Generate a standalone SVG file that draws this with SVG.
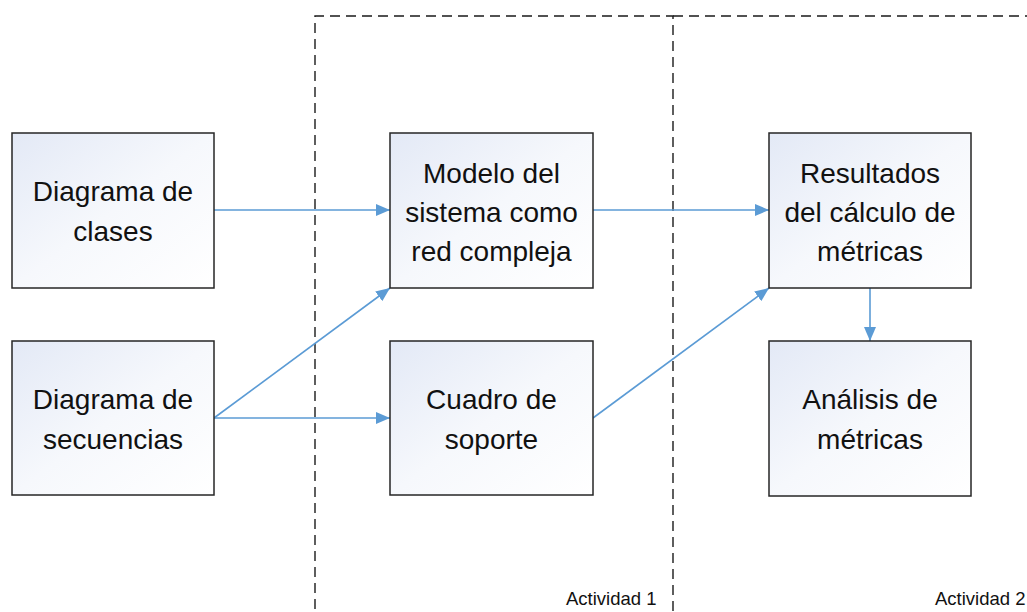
<svg xmlns="http://www.w3.org/2000/svg" width="1027" height="612" viewBox="0 0 1027 612">
<style>
.box{stroke:#262626;stroke-width:1.5;fill:url(#g)}
.t{font-family:"Liberation Sans",Arial,sans-serif;font-size:28px;fill:#111;text-anchor:middle}
.lbl{font-family:"Liberation Sans",Arial,sans-serif;font-size:18.5px;fill:#111}
.dash{fill:none;stroke:#1a1a1a;stroke-width:1.4;stroke-dasharray:10 6}
.c{stroke:#5B9BD5;stroke-width:1.6;fill:none;marker-end:url(#a)}
</style>
<defs>
<linearGradient id="g" x1="0" y1="0" x2="1" y2="1">
<stop offset="0" stop-color="#e3e9f6"/>
<stop offset="0.5" stop-color="#f6f8fc"/>
<stop offset="1" stop-color="#ffffff"/>
</linearGradient>
<marker id="a" markerWidth="14" markerHeight="12" refX="14" refY="6" orient="auto" markerUnits="userSpaceOnUse">
<path d="M0,0 L14,6 L0,12 Z" fill="#5B9BD5"/>
</marker>
</defs>
<rect width="1027" height="612" fill="#fff"/>
<g id="actividad1">
<path class="dash" d="M315,625 L315,16 L673,16 L673,625"/>
<text class="lbl" x="566" y="605">Actividad 1</text>
</g>
<g id="actividad2">
<path class="dash" d="M673,16 L1040,16"/>
<text class="lbl" x="935" y="605">Actividad 2</text>
</g>
<g id="connectors">
<line class="c" x1="214" y1="210" x2="390" y2="210"/>
<line class="c" x1="214" y1="418" x2="390" y2="288"/>
<line class="c" x1="214" y1="418" x2="390" y2="418"/>
<line class="c" x1="593" y1="210" x2="769" y2="210"/>
<line class="c" x1="593" y1="418" x2="769" y2="288"/>
<line class="c" x1="870" y1="288" x2="870" y2="341"/>
</g>
<g id="diagrama-clases">
<rect class="box" x="12" y="133" width="202" height="155"/>
<text class="t" x="113" y="201">Diagrama de</text>
<text class="t" x="113" y="241">clases</text>
</g>
<g id="diagrama-secuencias">
<rect class="box" x="12" y="341" width="202" height="154"/>
<text class="t" x="113" y="409">Diagrama de</text>
<text class="t" x="113" y="449">secuencias</text>
</g>
<g id="modelo">
<rect class="box" x="390" y="133" width="203" height="155"/>
<text class="t" x="491.5" y="183">Modelo del</text>
<text class="t" x="491.5" y="222">sistema como</text>
<text class="t" x="491.5" y="261">red compleja</text>
</g>
<g id="cuadro">
<rect class="box" x="390" y="341" width="203" height="154"/>
<text class="t" x="491.5" y="409">Cuadro de</text>
<text class="t" x="491.5" y="449">soporte</text>
</g>
<g id="resultados">
<rect class="box" x="769" y="133" width="202" height="155"/>
<text class="t" x="870" y="183">Resultados</text>
<text class="t" x="870" y="222">del cálculo de</text>
<text class="t" x="870" y="261">métricas</text>
</g>
<g id="analisis">
<rect class="box" x="769" y="341" width="202" height="155"/>
<text class="t" x="870" y="409">Análisis de</text>
<text class="t" x="870" y="449">métricas</text>
</g>
</svg>
